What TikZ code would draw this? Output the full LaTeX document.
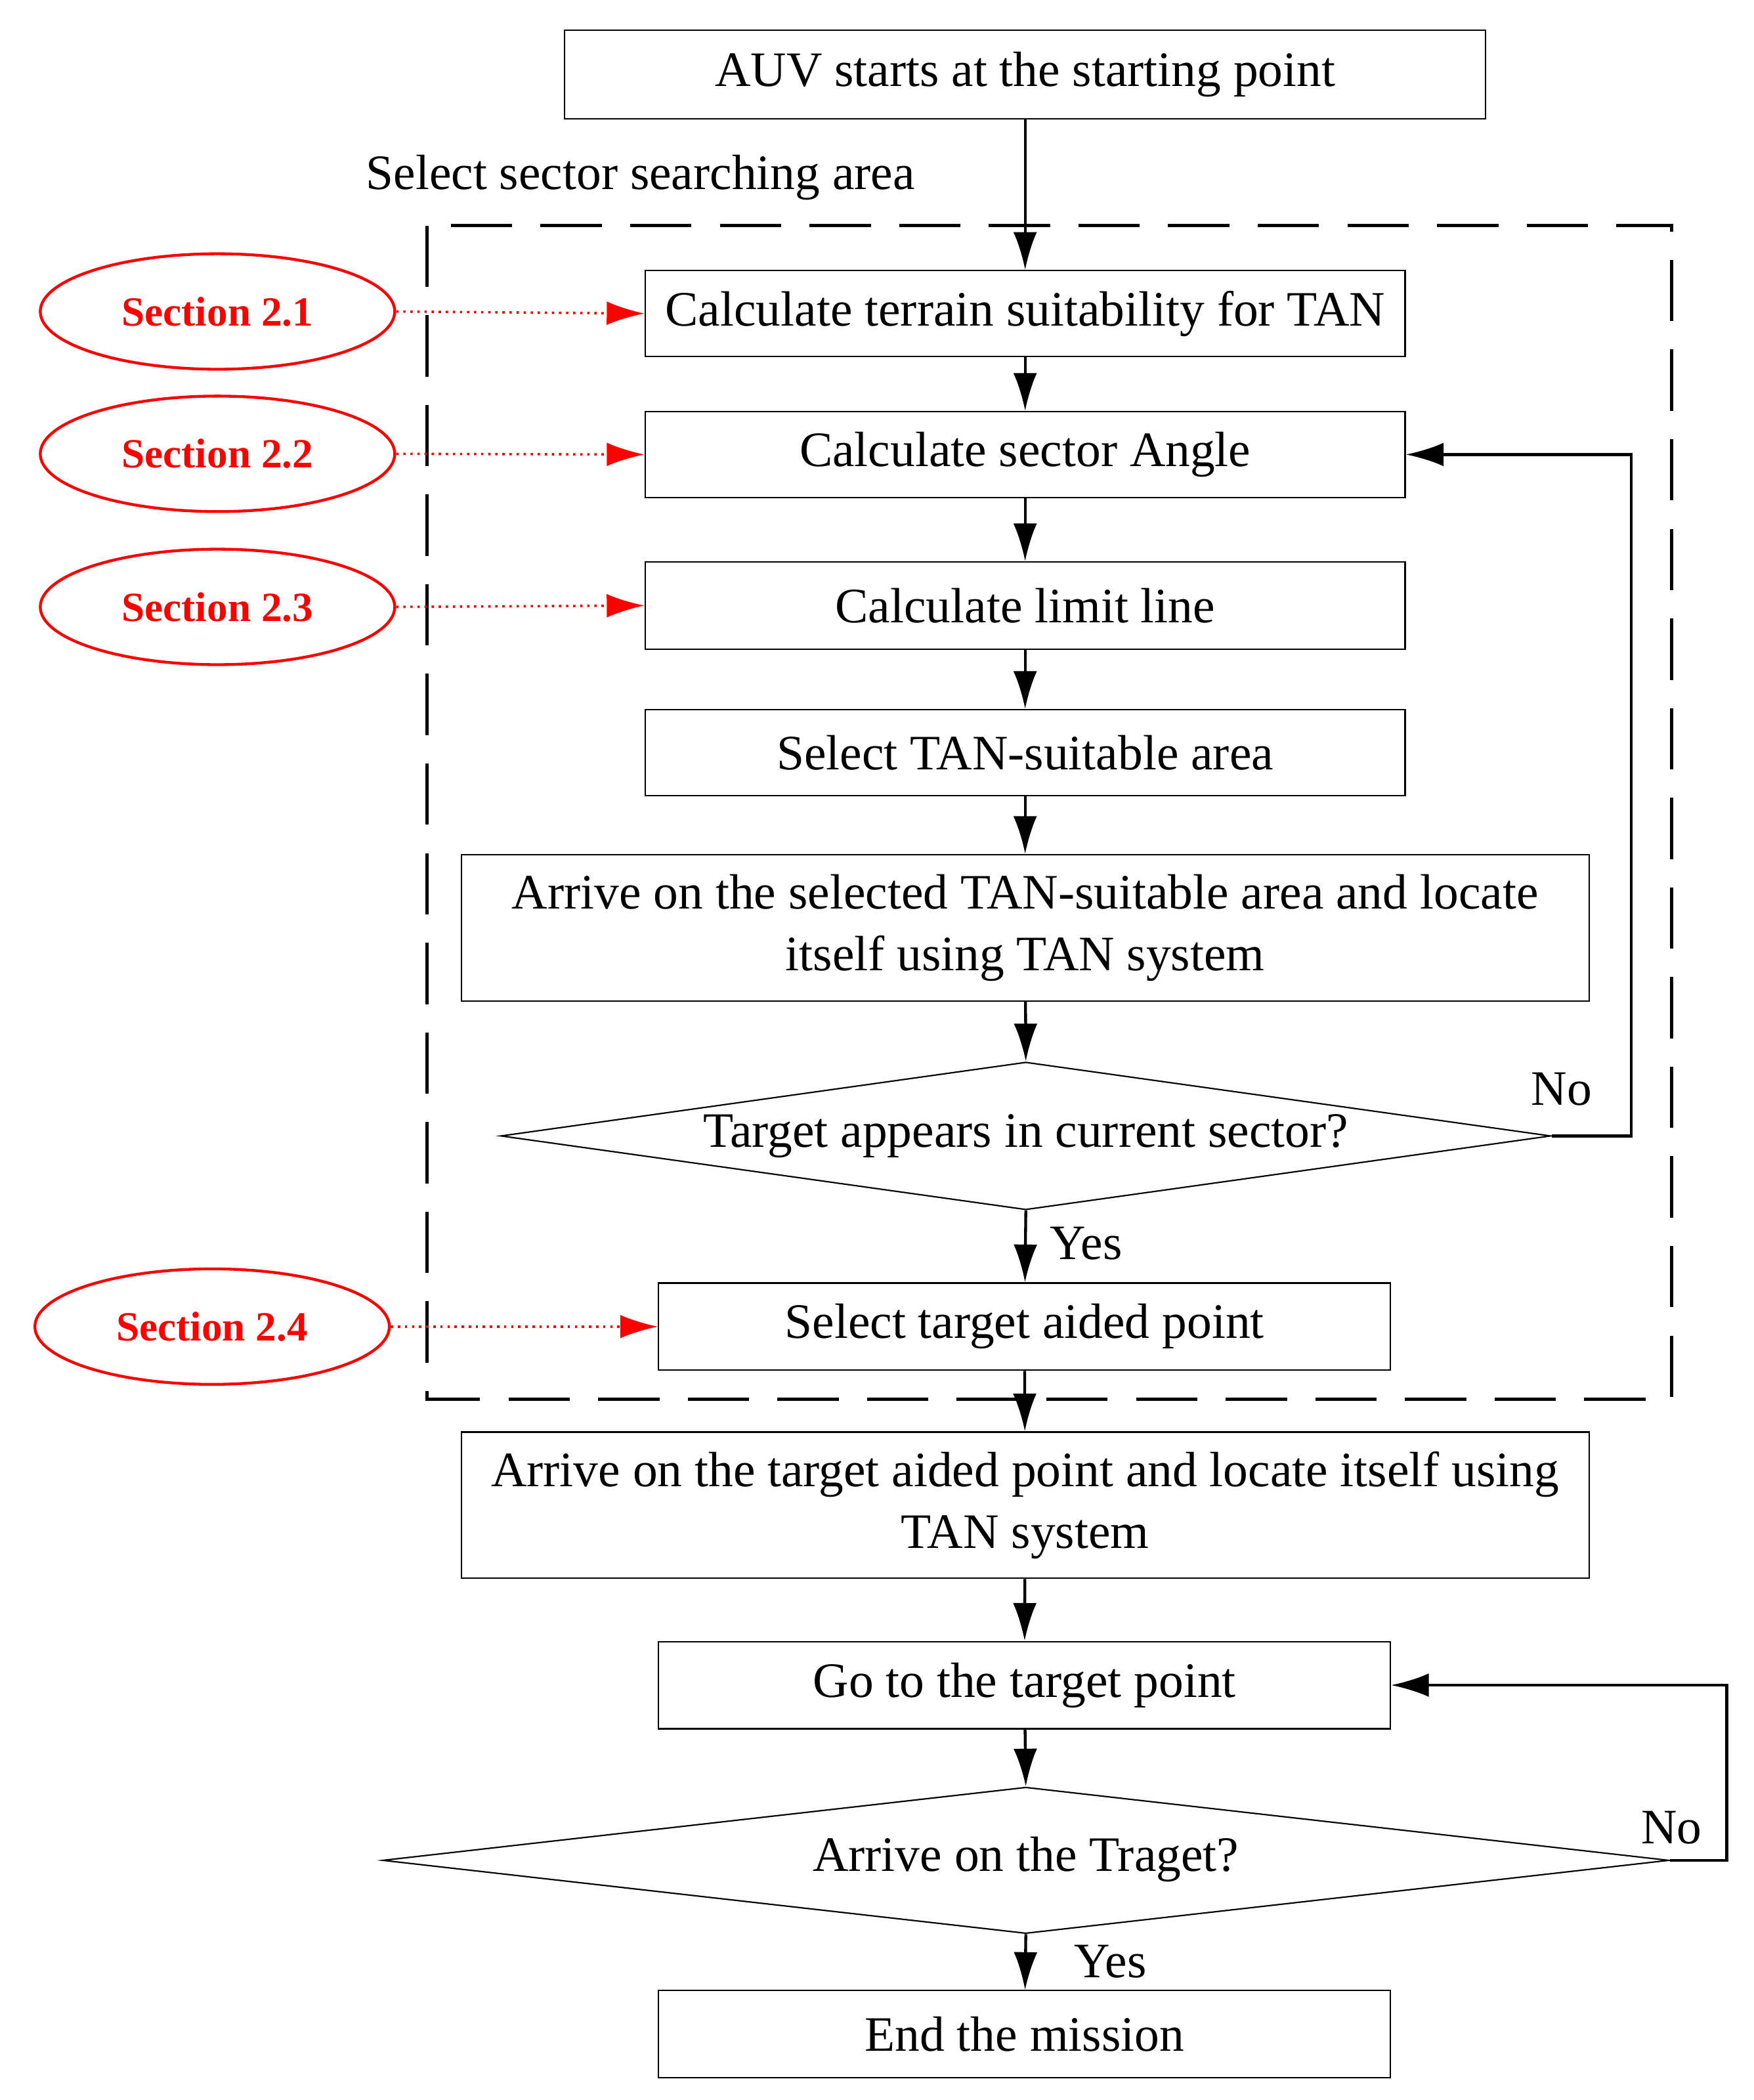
\documentclass[tikz,border=0pt]{standalone}
\usepackage{fontspec}
\setmainfont{Liberation Serif}
\usetikzlibrary{shapes.geometric,arrows.meta}
\begin{document}
\begin{tikzpicture}[x=0.02cm,y=-0.02cm,
  box/.style={draw,line width=0.6pt,inner sep=0pt,font=\fontsize{21}{26}\selectfont,align=center},
  dia/.style={draw,diamond,line width=0.6pt,inner sep=0pt},
  sec/.style={draw=red,ellipse,line width=1.2pt,text=red,font=\fontsize{17.6}{20}\selectfont\bfseries,inner sep=0pt},
  arr/.style={line width=1.2pt,-{Latex[length=16pt,width=10pt]}},
  rarr/.style={red,dotted,line width=1pt,-{Latex[length=16pt,width=10pt]}},
  lbl/.style={font=\fontsize{21}{26}\selectfont}]
\useasboundingbox (0,0) rectangle (1306,1564);
\draw[line width=1.5pt,dash pattern=on 26pt off 12pt] (318,168) rectangle (1245,1042);
\newcommand{\bx}[6]{\node[box,minimum width=#4*0.02cm-0.6pt,minimum height=#5*0.02cm-0.6pt] (#1) at (#2,#3) {#6};}
\bx{top}{763.5}{55.5}{687}{67}{AUV starts at the starting point}
\bx{b1}{763.5}{233.5}{567}{65}{Calculate terrain suitability for TAN}
\bx{b2}{763.5}{338.5}{567}{65}{Calculate sector Angle}
\bx{b3}{763.5}{451}{567}{66}{Calculate limit line}
\bx{b4}{763.5}{560.5}{567}{65}{Select TAN-suitable area}
\bx{b5}{763.5}{691}{841}{110}{Arrive on the selected TAN-suitable area and locate\\itself using TAN system}
\node[dia,minimum width=782*0.02cm,minimum height=110*0.02cm,aspect=7] (d1) at (764,846) {};
\node[lbl] at (764,846) {Target appears in current sector?};
\bx{b6}{763}{988}{546}{66}{Select target aided point}
\bx{b7}{763.5}{1121}{841}{110}{Arrive on the target aided point and locate itself using\\TAN system}
\bx{b8}{763}{1255}{546}{66}{Go to the target point}
\node[dia,minimum width=958*0.02cm,minimum height=109*0.02cm,aspect=8.8] (d2) at (764,1385.5) {};
\node[lbl] at (764,1385) {Arrive on the Traget?};
\bx{b9}{763}{1515}{546}{66}{End the mission}
\node[lbl] at (477,132) {Select sector searching area};
\node[lbl] at (1163,811) {No};
\node[lbl] at (1245,1361) {No};
\node[lbl] at (809,926) {Yes};
\node[lbl] at (827,1461) {Yes};
\draw[arr] (top) -- (b1);
\draw[arr] (b1) -- (b2);
\draw[arr] (b2) -- (b3);
\draw[arr] (b3) -- (b4);
\draw[arr] (b4) -- (b5);
\draw[arr] (b5) -- (d1.north);
\draw[arr] (d1.south) -- (b6);
\draw[arr] (b6) -- (b7);
\draw[arr] (b7) -- (b8);
\draw[arr] (b8) -- (d2.north);
\draw[arr] (d2.south) -- (b9);
\draw[arr] (d1.east) -- (1215,846) |- (b2.east);
\draw[arr] (d2.east) -- (1286,1385.5) |- (b8.east);
\node[sec,minimum width=264*0.02cm,minimum height=86*0.02cm] (s1) at (162,232) {Section 2.1};
\node[sec,minimum width=264*0.02cm,minimum height=86*0.02cm] (s2) at (162,338) {Section 2.2};
\node[sec,minimum width=264*0.02cm,minimum height=86*0.02cm] (s3) at (162,452) {Section 2.3};
\node[sec,minimum width=264*0.02cm,minimum height=86*0.02cm] (s4) at (158,988) {Section 2.4};
\draw[rarr] (s1.east) -- (b1.west);
\draw[rarr] (s2.east) -- (b2.west);
\draw[rarr] (s3.east) -- (b3.west);
\draw[rarr] (s4.east) -- (b6.west);
\end{tikzpicture}
\end{document}
